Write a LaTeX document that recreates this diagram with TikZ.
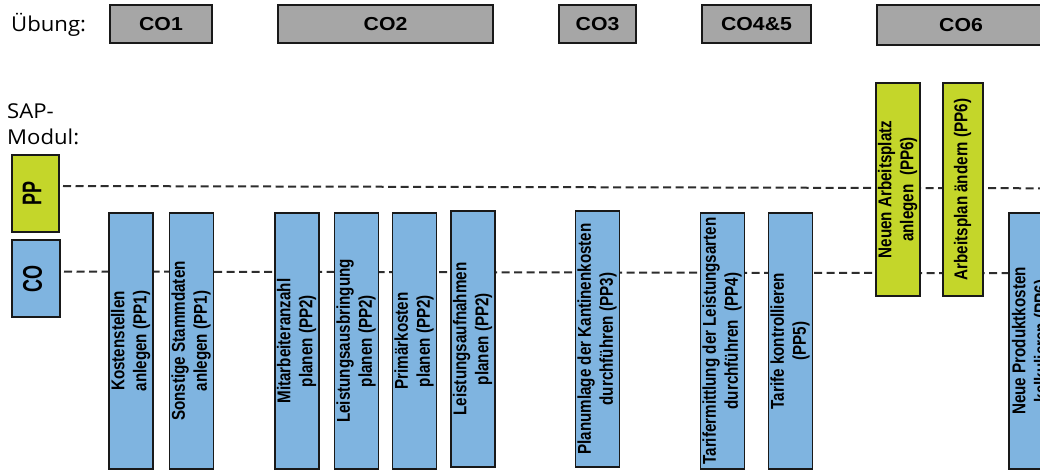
\documentclass[tikz,border=0pt]{standalone}
\usepackage{fontspec}
\setmainfont{Liberation Sans}
\newfontfamily\labelsans{Open Sans}
\usepackage{graphicx}
\usetikzlibrary{backgrounds}

\definecolor{coblue}{RGB}{127,180,224}
\definecolor{ppgreen}{RGB}{196,214,42}
\definecolor{hdrgray}{RGB}{166,166,166}
\definecolor{edge}{RGB}{25,25,25}
\definecolor{dashgray}{RGB}{45,45,45}

% rotated (bottom-to-top) label, widened across the reading direction
\newcommand\uptext[2][1.22]{\scalebox{#1}[1]{\rotatebox{90}{\begin{tabular}{@{}c@{}}#2\end{tabular}}}}
% horizontally widened label
\newcommand\widetext[2][1.13]{\scalebox{#1}[1]{#2}}

\begin{document}
\begin{tikzpicture}[x=1pt,y=-1pt,
  box/.style={draw=edge, line width=1.6pt, inner sep=0pt, outer sep=0pt},
  hdr/.style={box, fill=hdrgray, minimum height=38pt, font=\bfseries\fontsize{18.8}{22}\selectfont},
  act/.style={box, fill=coblue, minimum width=39pt, minimum height=256pt, font=\bfseries\fontsize{15.2}{18}\selectfont},
  ppact/.style={act, fill=ppgreen, minimum width=40pt, minimum height=213pt},
  module/.style={box, minimum width=47pt, minimum height=77pt, font=\bfseries\fontsize{18}{20}\selectfont},
  dashline/.style={draw=dashgray, line width=2pt, dash pattern=on 8pt off 4.5pt},
  plain/.style={font=\labelsans\fontsize{20.5}{26}\selectfont, inner sep=0pt, xscale=1.08, align=left}
]
\useasboundingbox (0,0) rectangle (1040,470);
\clip (0,0) rectangle (1040,470);

% row labels
\node[plain, anchor=base west] (uebung) at (11,32) {Übung:};
\node[plain, anchor=base west] (sapmodul) at (7,145) {SAP-\\Modul:};

% exercise headers
\node[hdr, minimum width=102pt] (co1) at (161,24) {\widetext{CO1}};
\node[hdr, minimum width=215pt] (co2) at (385.5,24) {\widetext{CO2}};
\node[hdr, minimum width=77pt] (co3) at (597.5,24) {\widetext{CO3}};
\node[hdr, minimum width=109pt] (co45) at (756.5,24) {\widetext{CO4\&5}};
\node[hdr, minimum width=168pt, minimum height=40pt] (co6) at (961,25) {\widetext{CO6}};

% SAP modules
\node[module, fill=ppgreen] (pp) at (35.5,193.5) {\uptext[1.5]{PP}};
\node[module, fill=coblue, minimum width=48pt] (co) at (36,278.5) {\uptext[1.5]{CO}};

% module lanes
\coordinate (ppstart) at (63,186);
\coordinate (ppend) at (1040,188.3);
\coordinate (costart) at (64,271.5);
\coordinate (coend) at (1040,273.3);

% activities
\node[act, minimum width=40pt] (kst) at (131,341) {\uptext{Kostenstellen\\anlegen (PP1)}};
\node[act] (stamm) at (191.5,341) {\uptext{Sonstige Stammdaten\\anlegen (PP1)}};
\node[act, minimum width=40pt] (mitarb) at (297,341) {\uptext{Mitarbeiteranzahl\\planen (PP2)}};
\node[act] (lausbr) at (356.5,341) {\uptext{Leistungsausbringung\\planen (PP2)}};
\node[act] (primk) at (414.5,341) {\uptext{Primärkosten\\planen (PP2)}};
\node[act, minimum width=40pt] (laufn) at (473,339) {\uptext{Leistungsaufnahmen\\planen (PP2)}};
\node[act] (umlage) at (597.5,339) {\uptext{Planumlage der Kantinenkosten\\durchführen (PP3)}};
\node[act] (tarif) at (722.5,341) {\uptext{Tarifermittlung der Leistungsarten\\durchführen\ \ (PP4)}};
\node[act] (tkontr) at (790.5,341) {\uptext{Tarife kontrollieren\\(PP5)}};
\node[ppact] (arbpl) at (898,189.5) {\uptext{Neuen Arbeitsplatz\\anlegen\ \ (PP6)}};
\node[ppact] (arbplan) at (963,189.5) {\uptext{Arbeitsplan ändern (PP6)}};
\node[act, minimum width=46pt] (prodk) at (1032,341) {\uptext{Neue Produktkosten\\kalkulieren (PP6)}};

\begin{pgfonlayer}{background}
  \fill[white] (0,0) rectangle (1040,470);
  \draw[dashline] (ppstart) -- (ppend);
  \draw[dashline] (costart) -- (coend);
\end{pgfonlayer}
\end{tikzpicture}
\end{document}
